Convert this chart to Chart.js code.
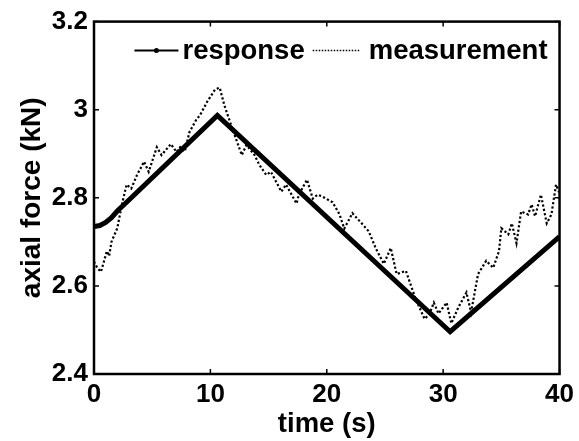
<!DOCTYPE html>
<html>
<head>
<meta charset="utf-8">
<script src="https://cdn.jsdelivr.net/npm/chart.js@4.4.1/dist/chart.umd.min.js"></script>
<style>
  html, body { margin: 0; padding: 0; background: #fff; }
  #wrap { width: 579px; height: 441px; }
</style>
</head>
<body>
<div id="wrap"><canvas id="forceChart"></canvas></div>
<script>
// model response (kN) vs time (s)
const responseTime = [0, 0.5, 1, 1.5, 2, 2.8, 10.6, 30.6, 40];
const responseForce = [2.735, 2.737, 2.744, 2.755, 2.770, 2.790, 2.987, 2.496, 2.712];

// measured axial force
const measTime = [0, 0.3, 0.6, 0.9, 1.1, 1.3, 1.5, 2.0, 2.4, 2.8, 3.2, 3.7, 4.3, 4.7, 5.4, 5.8,
  6.6, 7.1, 7.4, 7.8, 8.2, 8.8, 9.1, 9.7, 10.4, 10.8, 11.2, 11.9, 12.7, 13.1, 13.8, 14.2,
  14.8, 15.2, 16.1, 16.5, 17.4, 17.6, 18.3, 18.8, 19.2, 19.6, 20.5, 21.1, 21.5, 22.2, 23.0,
  23.6, 24.2, 24.9, 25.5, 26.0, 26.8, 27.6, 28.4, 28.8, 29.2, 29.6, 30.3, 30.7, 31.3, 32.0,
  32.4, 33.0, 33.7, 34.3, 34.8, 35.0, 35.6, 35.9, 36.3, 36.7, 37.3, 37.6, 37.9, 38.4, 38.9,
  39.3, 39.7, 40.0];
const measForce = [2.655, 2.640, 2.632, 2.660, 2.679, 2.668, 2.700, 2.731, 2.785, 2.830, 2.821,
  2.852, 2.882, 2.859, 2.915, 2.897, 2.922, 2.904, 2.915, 2.905, 2.949, 2.978, 2.987, 3.017,
  3.046, 3.050, 3.010, 2.956, 2.897, 2.920, 2.897, 2.875, 2.852, 2.859, 2.814, 2.830, 2.787,
  2.807, 2.841, 2.798, 2.807, 2.803, 2.790, 2.762, 2.730, 2.765, 2.742, 2.724, 2.686, 2.650,
  2.686, 2.627, 2.634, 2.573, 2.525, 2.535, 2.562, 2.537, 2.562, 2.515, 2.551, 2.585, 2.540,
  2.627, 2.657, 2.641, 2.679, 2.731, 2.717, 2.742, 2.697, 2.769, 2.762, 2.785, 2.758, 2.807,
  2.742, 2.762, 2.830, 2.810];

const xTicks = [0, 10, 20, 30, 40];
const yTicks = [2.4, 2.6, 2.8, 3.0, 3.2];

const FONT = '"Liberation Sans", Arial, Helvetica, sans-serif';

function toPoints(xs, ys) {
    return xs.map((x, i) => ({ x: x, y: ys[i] }));
}

// box round the plot with short inward tick marks on every side
const frameTicks = {
    id: "frameTicks",
    afterDatasetsDraw(chart) {
        const { ctx, chartArea: a, scales: { x, y } } = chart;
        const len = 5;
        ctx.save();
        ctx.strokeStyle = "#000";
        ctx.lineWidth = 1.5;
        ctx.beginPath();
        x.ticks.forEach((t) => {
            const px = x.getPixelForValue(t.value);
            ctx.moveTo(px, a.bottom);
            ctx.lineTo(px, a.bottom - len);
            ctx.moveTo(px, a.top);
            ctx.lineTo(px, a.top + len);
        });
        y.ticks.forEach((t) => {
            const py = y.getPixelForValue(t.value);
            ctx.moveTo(a.left, py);
            ctx.lineTo(a.left + len, py);
            ctx.moveTo(a.right, py);
            ctx.lineTo(a.right - len, py);
        });
        ctx.stroke();
        ctx.lineWidth = 2.5;
        ctx.strokeRect(a.left, a.top, a.right - a.left, a.bottom - a.top);
        ctx.restore();
    },
};

// legend sitting inside the plot, top right, no box
const innerLegend = {
    id: "innerLegend",
    afterDraw(chart) {
        const { ctx, chartArea: a } = chart;
        const sets = chart.data.datasets;
        const lineLen = [44, 47];
        const textGap = [4, 9];
        const itemGap = 8;
        const cy = a.top + 29;
        ctx.save();
        ctx.font = "bold 27.5px " + FONT;
        ctx.textBaseline = "middle";
        ctx.fillStyle = "#000";
        const widths = sets.map((d) => ctx.measureText(d.label).width);
        let total = 0;
        widths.forEach((w, i) => { total += lineLen[i] + textGap[i] + w + (i < widths.length - 1 ? itemGap : 0); });
        let x = a.right - 12 - total;
        sets.forEach((d, i) => {
            ctx.strokeStyle = "#000";
            ctx.lineWidth = i === 0 ? 2 : 1.5;
            ctx.setLineDash(i === 0 ? [] : [1.5, 1.5]);
            ctx.beginPath();
            ctx.moveTo(x, cy);
            ctx.lineTo(x + lineLen[i], cy);
            ctx.stroke();
            if (i === 0) {
                ctx.beginPath();
                ctx.arc(x + lineLen[i] / 2, cy, 2.5, 0, Math.PI * 2);
                ctx.fill();
            }
            ctx.setLineDash([]);
            ctx.fillText(d.label, x + lineLen[i] + textGap[i], cy + 1);
            x += lineLen[i] + textGap[i] + widths[i] + itemGap;
        });
        ctx.restore();
    },
};

new Chart(document.getElementById("forceChart").getContext("2d"), {
    type: "line",
    data: {
        datasets: [
            {
                label: "response",
                data: toPoints(responseTime, responseForce),
                borderColor: "#000",
                borderWidth: 5,
                pointRadius: 0,
                tension: 0,
            },
            {
                label: "measurement",
                data: toPoints(measTime, measForce),
                borderColor: "#000",
                borderWidth: 2.2,
                borderDash: [2.2, 2.2],
                pointRadius: 0,
                tension: 0,
            },
        ],
    },
    options: {
        responsive: true,
        maintainAspectRatio: false,
        animation: false,
        layout: { padding: { top: 18, right: 18, left: 0, bottom: 0 } },
        scales: {
            x: {
                type: "linear",
                min: xTicks[0],
                max: xTicks[xTicks.length - 1],
                afterBuildTicks: (scale) => { scale.ticks = xTicks.map((v) => ({ value: v })); },
                afterFit: (scale) => { scale.height = 67; },
                grid: { display: false, drawTicks: false },
                border: { display: false },
                ticks: {
                    color: "#000",
                    padding: 5,
                    maxRotation: 0,
                    font: { family: FONT, size: 26, weight: "bold" },
                },
                title: {
                    display: true,
                    text: "time (s)",
                    color: "#000",
                    padding: { top: 0, bottom: 0 },
                    font: { family: FONT, size: 27.5, weight: "bold" },
                },
            },
            y: {
                type: "linear",
                min: yTicks[0],
                max: yTicks[yTicks.length - 1],
                afterBuildTicks: (scale) => { scale.ticks = yTicks.map((v) => ({ value: v })); },
                afterFit: (scale) => { scale.width = 94; },
                grid: { display: false, drawTicks: false },
                border: { display: false },
                ticks: {
                    color: "#000",
                    padding: 6,
                    font: { family: FONT, size: 26, weight: "bold" },
                    callback: (v) => String(+v.toFixed(1)),
                },
                title: {
                    display: true,
                    text: "axial force (kN)",
                    color: "#000",
                    padding: { top: 15, bottom: 0 },
                    font: { family: FONT, size: 28, weight: "bold" },
                },
            },
        },
        plugins: {
            legend: { display: false },
            tooltip: { enabled: false },
        },
    },
    plugins: [frameTicks, innerLegend],
});
</script>
</body>
</html>
